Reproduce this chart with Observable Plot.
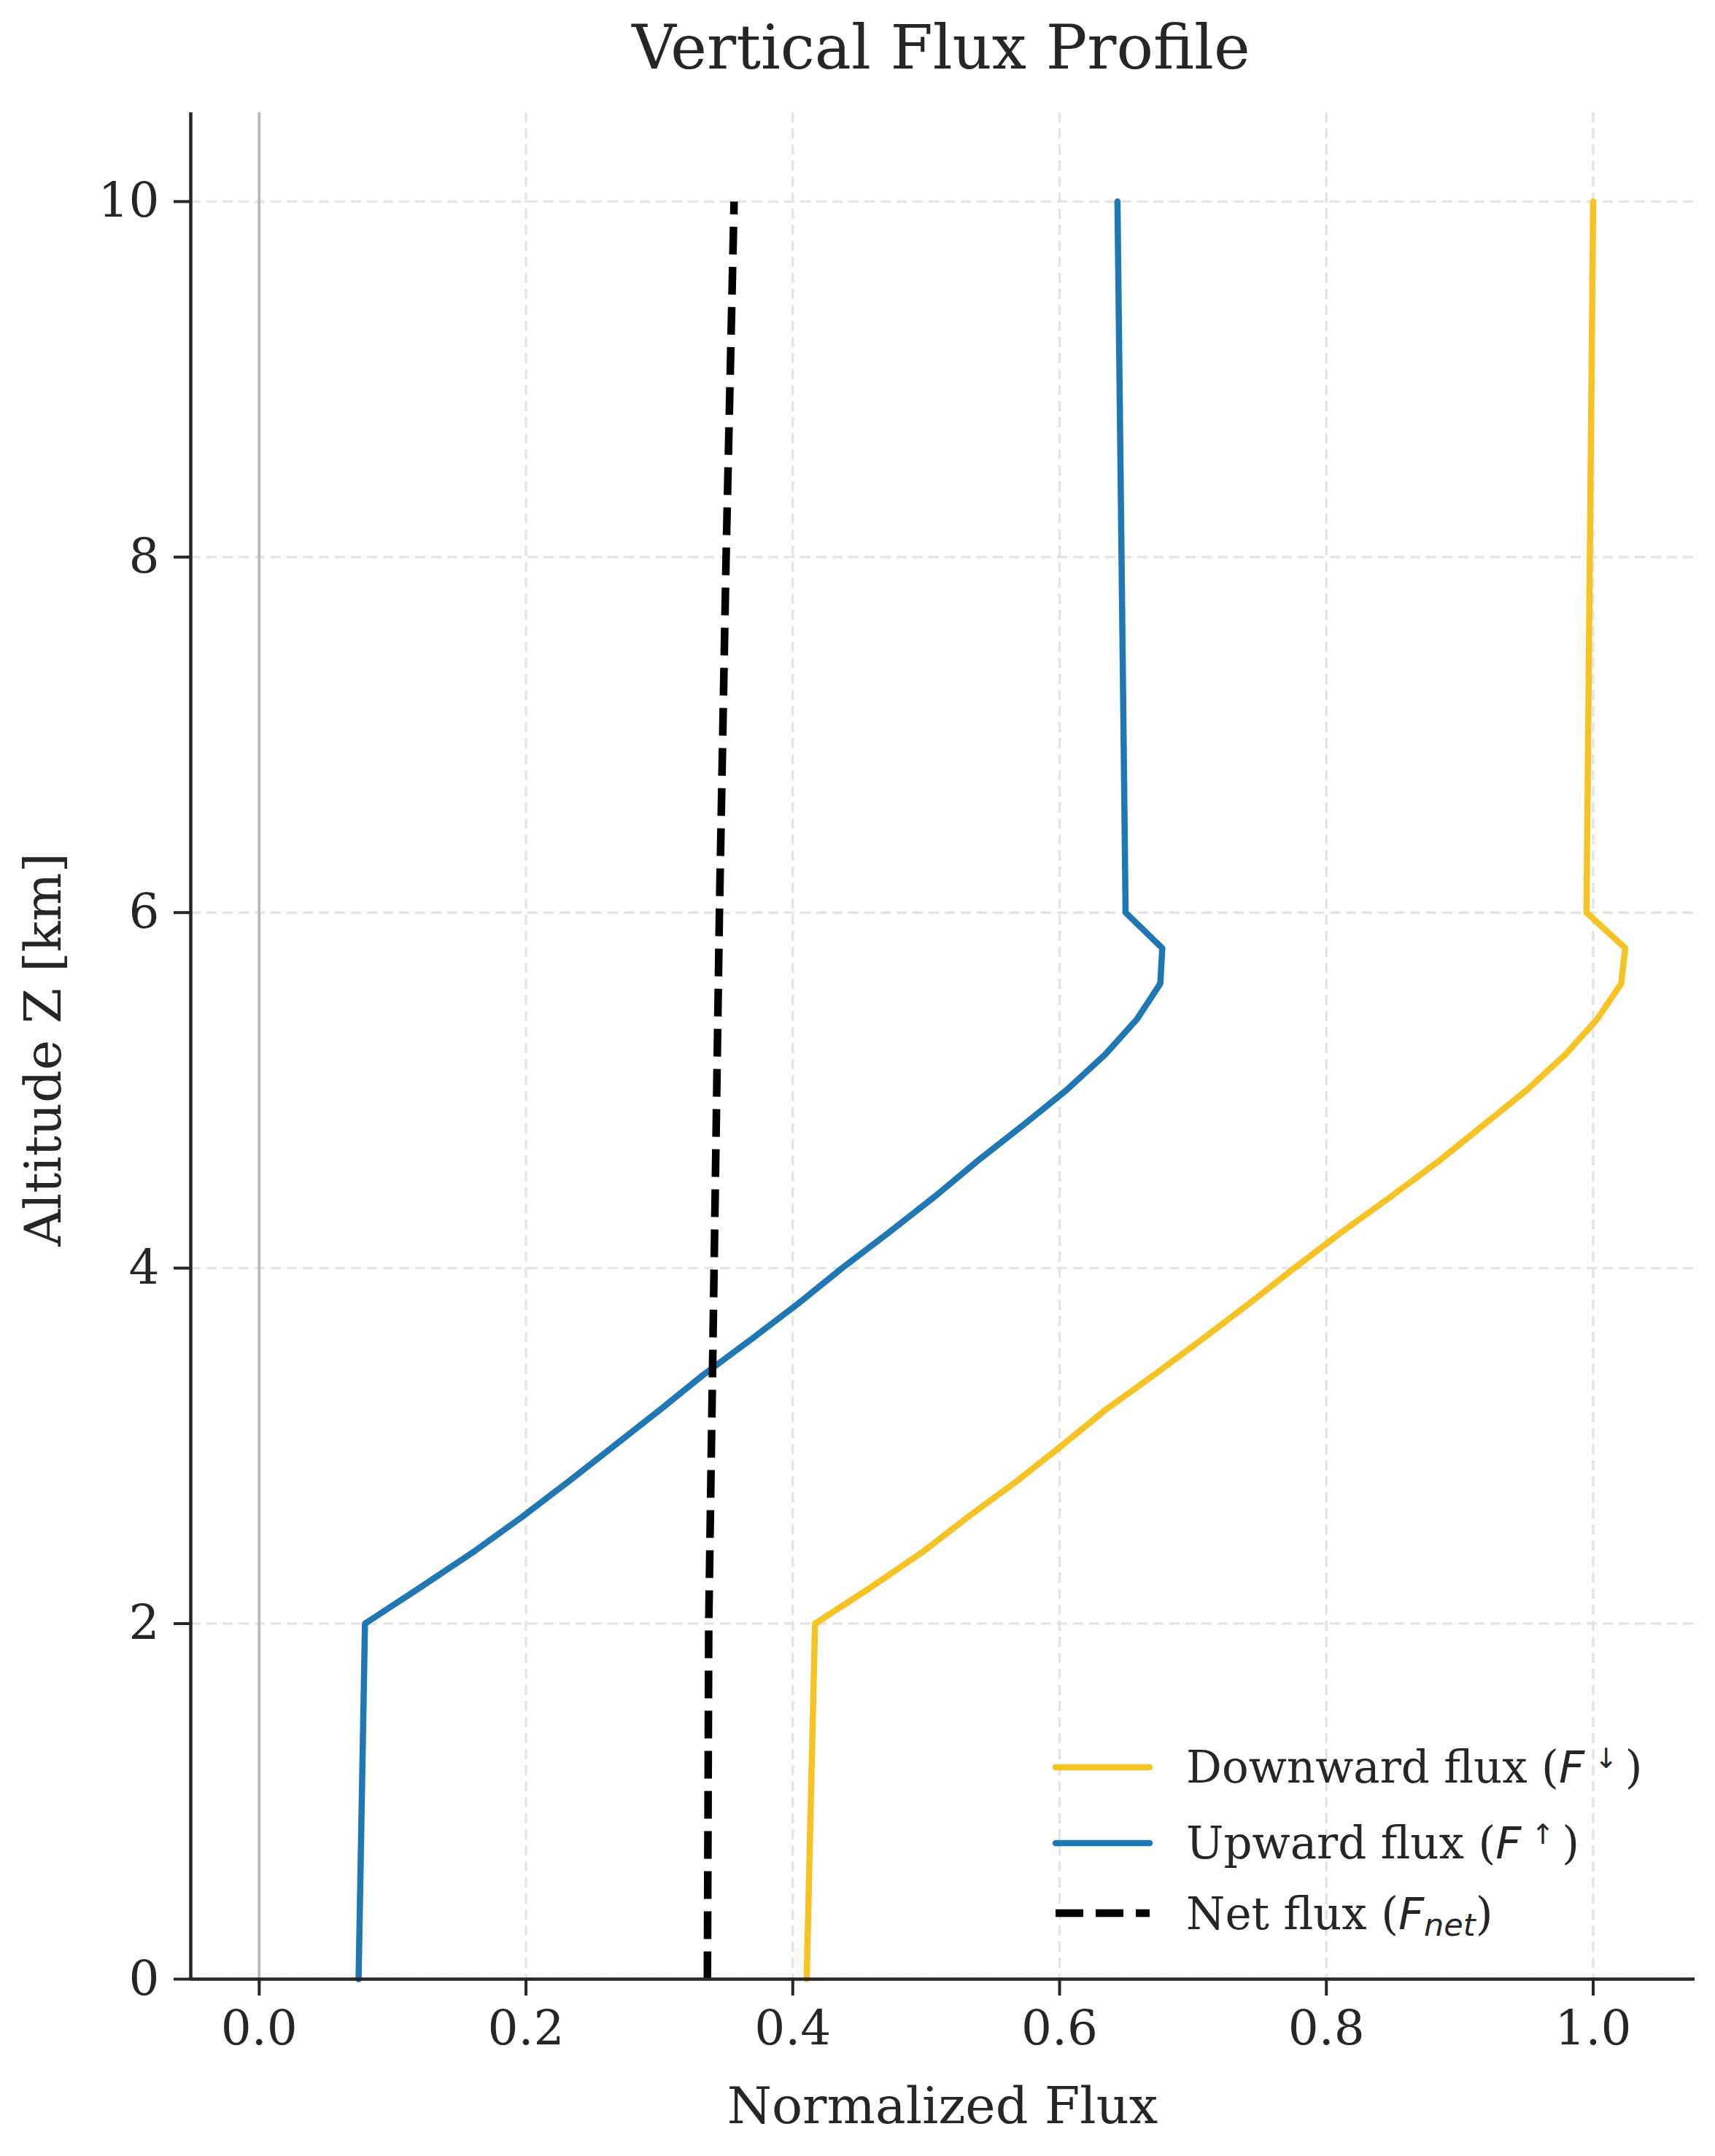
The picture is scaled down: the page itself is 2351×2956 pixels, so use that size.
<!DOCTYPE html>
<html><head><meta charset="utf-8">
<script src="https://cdn.jsdelivr.net/npm/d3@7"></script>
<script src="https://cdn.jsdelivr.net/npm/@observablehq/plot@0.6"></script>
<style>
html,body{margin:0;padding:0;background:#fff;}
#wrap{width:2351px;height:2956px;position:relative;overflow:hidden;background:#fff;}
svg{display:block}
</style></head><body><div id="wrap"></div>
<script>
// ---- data ----
const altitude = [0, 2, 2.2, 2.4, 2.6, 2.8, 3, 3.2, 3.4, 3.6, 3.8, 4, 4.2, 4.4, 4.6, 4.8, 5, 5.2, 5.4, 5.6, 5.8, 6, 10];
const upwardFlux = [0.0745, 0.0793, 0.120, 0.160, 0.197, 0.232, 0.266, 0.300, 0.333, 0.369, 0.404, 0.437, 0.472, 0.506, 0.538, 0.572, 0.605, 0.634, 0.658, 0.6755, 0.677, 0.6495, 0.6434];
const downwardFlux = [0.4104, 0.4167, 0.4577, 0.4968, 0.5313, 0.5677, 0.6014, 0.634, 0.671, 0.707, 0.742, 0.776, 0.811, 0.848, 0.884, 0.917, 0.950, 0.979, 1.003, 1.021, 1.024, 0.995, 1.000];
const netAltitude = [0, 2, 4, 6, 8, 10];
const netFlux = [0.336, 0.337, 0.341, 0.345, 0.350, 0.356];
const xTicks = [0, 0.2, 0.4, 0.6, 0.8, 1.0];
const yTicks = [0, 2, 4, 6, 8, 10];
const titleText = "Vertical Flux Profile";
const xLabel = "Normalized Flux";
const yLabel = "Altitude Z [km]";

// ---- styling ----
const W = 2351, TITLE_H = 130, H = 2956 - TITLE_H;
const serif = "'DejaVu Serif', serif";
const sans = "'DejaVu Sans', sans-serif";
const ink = "#262626";
const colDown = "#f5c424", colUp = "#1f77b4", colNet = "#000000";
const xDomain = [-0.0513, 1.0763], yDomain = [0, 10.5];
const LW = 8.5, NLW = 10.5;

const downData = altitude.map((z, i) => ({z, v: downwardFlux[i]}));
const upData = altitude.map((z, i) => ({z, v: upwardFlux[i]}));
const netData = netAltitude.map((z, i) => ({z, v: netFlux[i]}));

const wrap = d3.select("#wrap");

// title
const tsvg = wrap.append("svg").attr("width", W).attr("height", TITLE_H);
tsvg.append("text").attr("x", 1290).attr("y", 94).attr("text-anchor", "middle")
  .attr("font-family", serif).attr("font-size", 84).attr("fill", ink).text(titleText);

const chart = Plot.plot({
  width: W, height: H,
  marginLeft: 261, marginRight: 28, marginTop: 24, marginBottom: 243,
  style: {fontFamily: serif, color: ink, background: "#fff", overflow: "visible"},
  x: {domain: xDomain},
  y: {domain: yDomain},
  marks: [
    Plot.ruleX(xTicks, {stroke: "#e4e4e4", strokeWidth: 3.4, strokeDasharray: "14,8"}),
    Plot.ruleY(yTicks, {stroke: "#e4e4e4", strokeWidth: 3.4, strokeDasharray: "14,8"}),
    Plot.ruleX([0], {stroke: "#b5b5b5", strokeWidth: 3.5}),
    Plot.line(downData, {x: "v", y: "z", stroke: colDown, strokeWidth: LW, strokeLinejoin: "round", strokeLinecap: "round"}),
    Plot.line(upData, {x: "v", y: "z", stroke: colUp, strokeWidth: LW, strokeLinejoin: "round", strokeLinecap: "round"}),
    Plot.line(netData, {x: "v", y: "z", stroke: colNet, strokeWidth: NLW, strokeDasharray: "38,17", strokeLinecap: "butt"}),
    Plot.ruleX([xDomain[0]], {stroke: ink, strokeWidth: 4.5}),
    Plot.ruleY([0], {stroke: ink, strokeWidth: 4.5}),
    Plot.axisX(xTicks, {tickSize: 23, tickPadding: 20, fontSize: 66, strokeWidth: 4, tickFormat: d3.format(".1f"), label: null}),
    Plot.axisY(yTicks, {tickSize: 23, tickPadding: 20, fontSize: 66, strokeWidth: 4, tickFormat: d3.format("d"), label: null})
  ]
});
wrap.node().appendChild(chart);

const svg = d3.select(chart);
svg.selectAll("g[aria-label$='tick'] path").attr("stroke-width", 4);

// axis labels
svg.append("text").attr("x", 1292).attr("y", 2781).attr("text-anchor", "middle")
  .attr("font-family", serif).attr("font-size", 70).attr("fill", ink).text(xLabel);
svg.append("text").attr("transform", "translate(83,1309) rotate(-90)").attr("text-anchor", "middle")
  .attr("font-family", serif).attr("font-size", 70).attr("fill", ink).text(yLabel);

// legend
const leg = svg.append("g").attr("font-family", serif).attr("font-size", 61).attr("fill", ink)
  .attr("text-anchor", "start");
const rows = [
  {y: 2293, stroke: colDown, dash: null, w: LW},
  {y: 2397, stroke: colUp, dash: null, w: LW},
  {y: 2493, stroke: colNet, dash: "38,17", w: NLW}
];
rows.forEach(r => {
  leg.append("line").attr("x1", 1447).attr("x2", 1576).attr("y1", r.y).attr("y2", r.y)
    .attr("stroke", r.stroke).attr("stroke-width", r.w)
    .attr("stroke-linecap", r.dash ? "butt" : "round")
    .attr("stroke-dasharray", r.dash);
});
function mathLabel(y, base, sup, sub) {
  const t = leg.append("text").attr("x", 1626).attr("y", y).attr("text-anchor", "start");
  t.append("tspan").text(base + " (");
  t.append("tspan").attr("font-family", sans).attr("font-style", "italic").text("F");
  if (sup) {
    t.append("tspan").attr("font-family", sans).attr("font-size", 38).attr("dx", 14).attr("dy", -20).text(sup);
    t.append("tspan").attr("dx", 10).attr("dy", 20).text(")");
  } else {
    t.append("tspan").attr("font-family", sans).attr("font-style", "italic").attr("font-size", 43).attr("dy", 9).text(sub);
    t.append("tspan").attr("dy", -9).text(")");
  }
}
mathLabel(2314, "Downward flux", "\u2193", null);
mathLabel(2418, "Upward flux", "\u2191", null);
mathLabel(2515, "Net flux", null, "net");
</script>
</body></html>
